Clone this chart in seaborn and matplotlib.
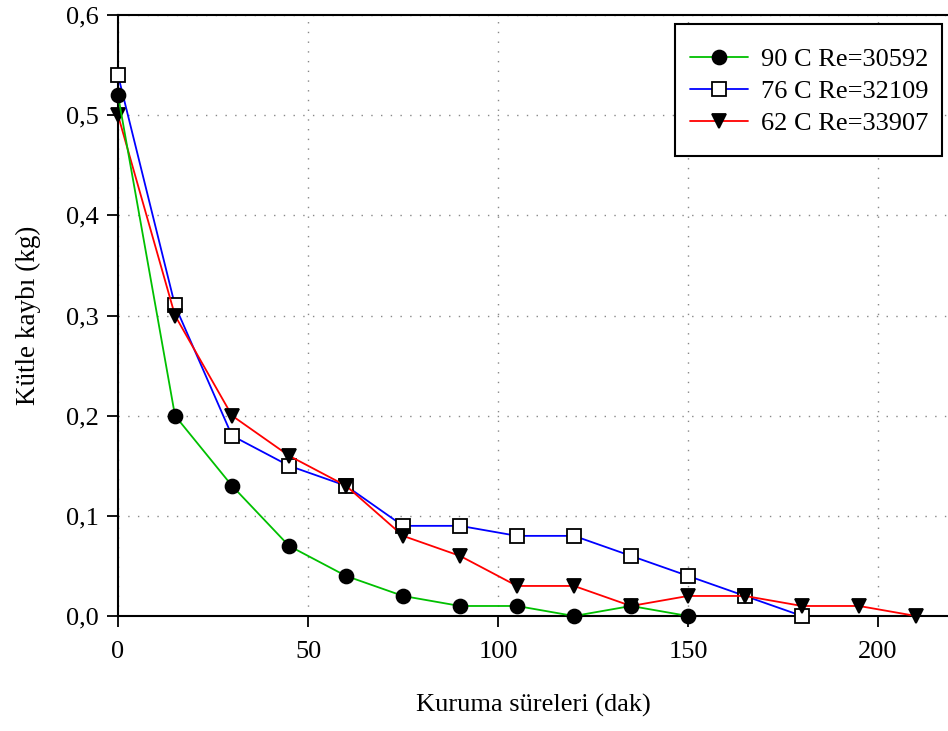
import matplotlib
matplotlib.use("Agg")
import matplotlib.pyplot as plt
import seaborn as sns
import pandas as pd
from matplotlib.patches import Rectangle
from matplotlib.ticker import FuncFormatter

# Drying time (minutes) and mass loss (kg) for three air temperatures
t_90 = [0, 15, 30, 45, 60, 75, 90, 105, 120, 135, 150]
m_90 = [0.52, 0.20, 0.13, 0.07, 0.04, 0.02, 0.01, 0.01, 0.00, 0.01, 0.00]

t_76 = [0, 15, 30, 45, 60, 75, 90, 105, 120, 135, 150, 165, 180]
m_76 = [0.54, 0.31, 0.18, 0.15, 0.13, 0.09, 0.09, 0.08, 0.08, 0.06, 0.04, 0.02, 0.00]

t_62 = [0, 15, 30, 45, 60, 75, 90, 105, 120, 135, 150, 165, 180, 195, 210]
m_62 = [0.50, 0.30, 0.20, 0.16, 0.13, 0.08, 0.06, 0.03, 0.03, 0.01, 0.02, 0.02, 0.01, 0.01, 0.00]

labels = ["90 C Re=30592", "76 C Re=32109", "62 C Re=33907"]
x_ticks = [0, 50, 100, 150, 200]
y_ticks = [0.0, 0.1, 0.2, 0.3, 0.4, 0.5, 0.6]

sns.set_style("ticks")
plt.rcParams["font.family"] = ["Liberation Serif", "DejaVu Serif"]
plt.rcParams["text.color"] = "black"
plt.rcParams["axes.labelcolor"] = "black"

W, H = 948, 731
fig = plt.figure(figsize=(W / 100, H / 100), dpi=100)
ax = fig.add_axes([118 / W, 115 / H, 1 - 118 / W, 601 / H])

series = [
    (t_90, m_90, labels[0], "#00c000", "o", "black", 5),
    (t_76, m_76, labels[1], "#0000ff", "s", "white", 3),
    (t_62, m_62, labels[2], "#ff0000", "v", "black", 4),
]
handles = {}
for t, m, lab, col, mk, face, z in series:
    df = pd.DataFrame({"t": t, "m": m})
    sns.lineplot(data=df, x="t", y="m", ax=ax, color=col, linewidth=1.3,
                 marker=mk, markersize=10 if mk != "s" else 9.5,
                 markerfacecolor=face, markeredgecolor="black",
                 markeredgewidth=1.3, label=lab, zorder=z, legend=False,
                 clip_on=False)
    handles[lab] = ax.lines[-1]

ax.set_xlim(0, 218.4)
ax.set_ylim(0, 0.6)
ax.set_xticks(x_ticks)
ax.set_yticks(y_ticks)
ax.yaxis.set_major_formatter(FuncFormatter(lambda v, p: f"{v:.1f}".replace(".", ",")))
ax.tick_params(axis="both", direction="out", length=8, width=1.3,
               labelsize=19, colors="black", labelcolor="black", pad=6,
               bottom=True, left=True, top=False, right=False)
ax.tick_params(axis="x", pad=10)

ax.grid(True, linestyle=(0, (1, 6)), color="#888888", linewidth=1.0)
ax.set_axisbelow(True)

for side in ["left", "bottom", "top"]:
    ax.spines[side].set_visible(True)
    ax.spines[side].set_color("black")
    ax.spines[side].set_linewidth(1.5)
ax.spines["right"].set_visible(False)

ax.set_xlabel("Kuruma süreleri (dak)", fontsize=19, labelpad=22, color="black")
ax.set_ylabel("Kütle kaybı (kg)", fontsize=19.5, labelpad=18, color="black")

# legend box: white frame with black border, entries centred inside
box = Rectangle((675 / W, 1 - 156 / H), (942 - 675) / W, (156 - 24) / H,
                transform=fig.transFigure, facecolor="white", edgecolor="black",
                linewidth=1.5, zorder=9)
fig.patches.append(box)

leg = fig.legend([handles[l] for l in labels], labels, loc="center",
                 bbox_to_anchor=(809.5 / W, 1 - 91.5 / H), bbox_transform=fig.transFigure,
                 borderaxespad=0, borderpad=0, fontsize=19, frameon=False,
                 handlelength=2.2, handletextpad=0.5, labelspacing=0.33)
leg.set_zorder(10)
for txt in leg.get_texts():
    txt.set_color("black")

fig.savefig("out.png", dpi=100)
